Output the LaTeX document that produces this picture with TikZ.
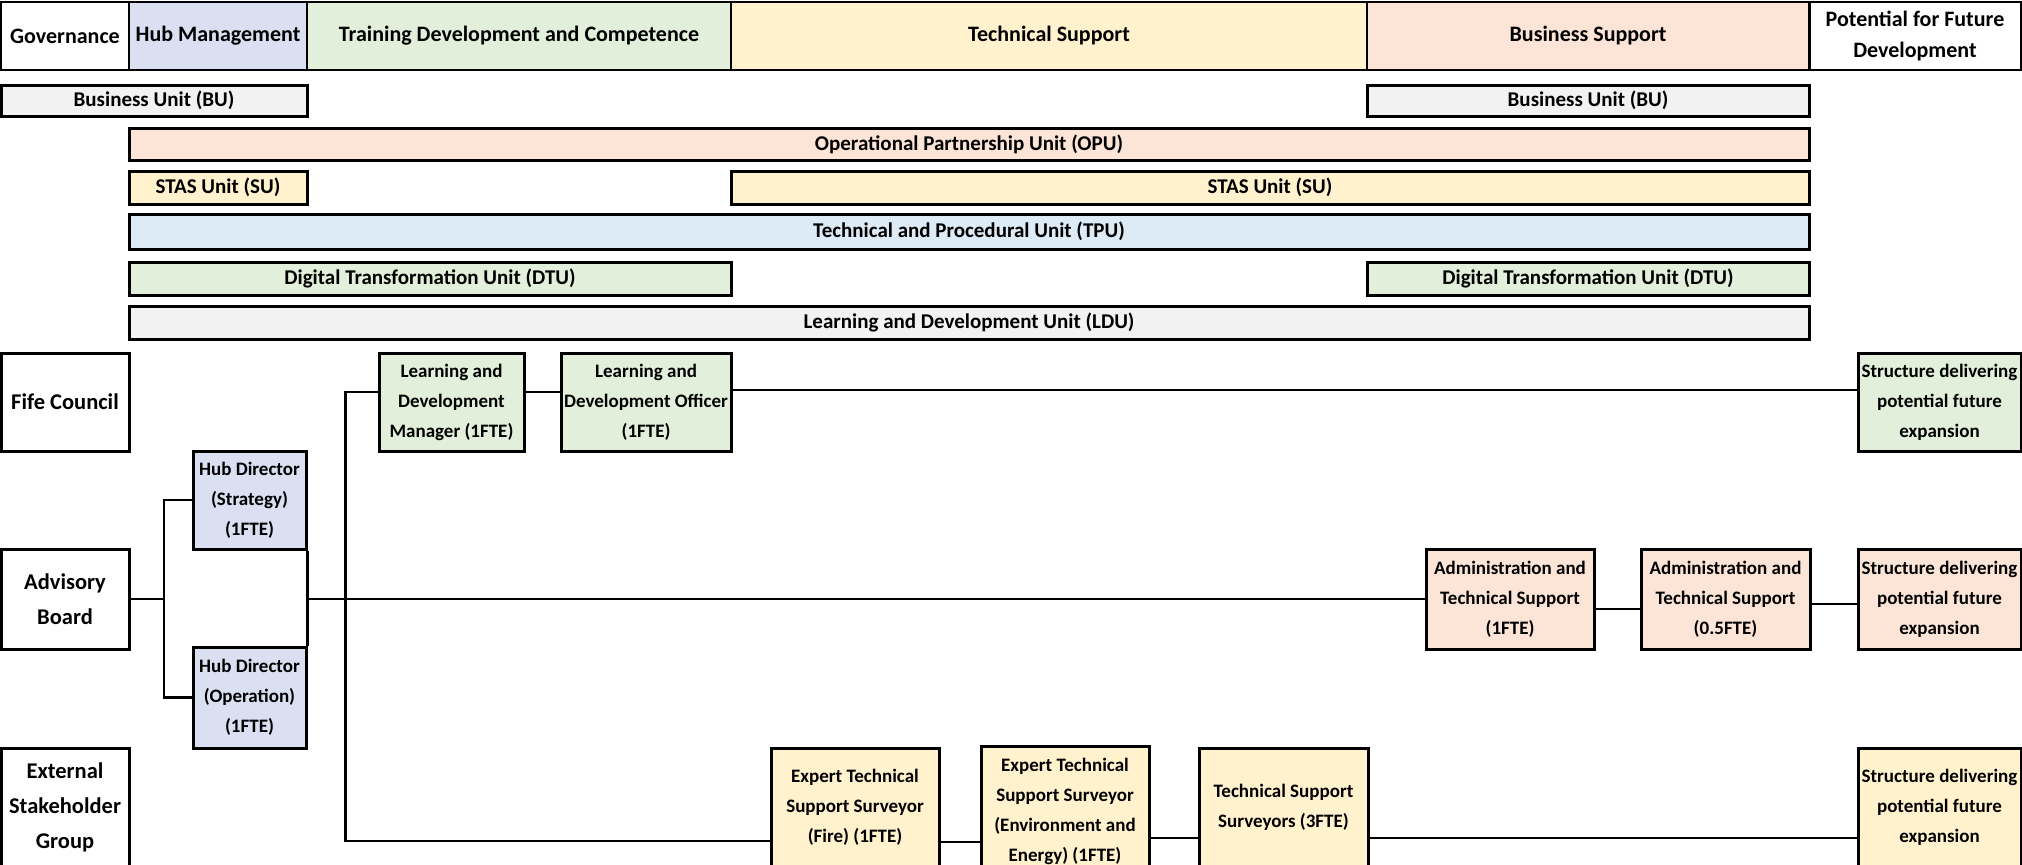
\documentclass[tikz,border=0pt]{standalone}
\usepackage{fontspec}
\setmainfont{Carlito}
\definecolor{hubblue}{HTML}{DAE0F2}
\definecolor{tdcgreen}{HTML}{E2EFDA}
\definecolor{tecyellow}{HTML}{FFF2CC}
\definecolor{bussalmon}{HTML}{FCE4D6}
\definecolor{unitgrey}{HTML}{F2F2F2}
\definecolor{tpublue}{HTML}{DDEBF7}
\begin{document}
\begin{tikzpicture}[x=1pt,y=-1pt,
    hdr/.style={draw, line width=2pt, align=center, inner sep=0pt, font=\fontsize{22}{31}\selectfont\bfseries},
    unit/.style={draw, line width=3pt, inner sep=0pt, font=\fontsize{21}{25}\selectfont\bfseries},
    gov/.style={draw, line width=3pt, align=center, inner sep=0pt, font=\fontsize{22.5}{35}\selectfont\bfseries},
    role/.style={draw, line width=3pt, align=center, inner sep=0pt, font=\fontsize{19}{30}\selectfont\bfseries},
    link/.style={line width=2.8pt}]
    \useasboundingbox (0,0) rectangle (2022,865);
    % header row
    \node[hdr, minimum width=128pt, minimum height=68pt] (hgov) at (65,36) {Governance};
    \node[hdr, fill=hubblue, minimum width=178pt, minimum height=68pt] (hhub) at (218,36) {Hub Management};
    \node[hdr, fill=tdcgreen, minimum width=424pt, minimum height=68pt] (htdc) at (519,36) {Training Development and Competence};
    \node[hdr, fill=tecyellow, minimum width=636pt, minimum height=68pt] (htec) at (1049,36) {Technical Support};
    \node[hdr, fill=bussalmon, minimum width=442pt, minimum height=68pt] (hbus) at (1588,36) {Business Support};
    \node[hdr, minimum width=211pt, minimum height=68pt] (hpot) at (1915,36) {Potential for Future\\Development};
    % units
    \node[unit, fill=unitgrey, minimum width=306pt, minimum height=31pt] (bu1) at (154,100.5) {Business Unit (BU)};
    \node[unit, fill=unitgrey, minimum width=442pt, minimum height=31pt] (bu2) at (1588,100.5) {Business Unit (BU)};
    \node[unit, fill=bussalmon, minimum width=1680pt, minimum height=32pt] (opu) at (969,144) {Operational Partnership Unit (OPU)};
    \node[unit, fill=tecyellow, minimum width=178pt, minimum height=33pt] (su1) at (218,187.5) {STAS Unit (SU)};
    \node[unit, fill=tecyellow, minimum width=1078pt, minimum height=33pt] (su2) at (1270,187.5) {STAS Unit (SU)};
    \node[unit, fill=tpublue, minimum width=1680pt, minimum height=35pt] (tpu) at (969,231.5) {Technical and Procedural Unit (TPU)};
    \node[unit, fill=tdcgreen, minimum width=602pt, minimum height=33pt] (dtu1) at (430,278.5) {Digital Transformation Unit (DTU)};
    \node[unit, fill=tdcgreen, minimum width=442pt, minimum height=33pt] (dtu2) at (1588,278.5) {Digital Transformation Unit (DTU)};
    \node[unit, fill=unitgrey, minimum width=1680pt, minimum height=33pt] (ldu) at (969,322.5) {Learning and Development Unit (LDU)};
    % governance column
    \node[gov, minimum width=128pt, minimum height=98pt] (fife) at (65,402) {Fife Council};
    \node[gov, minimum width=128pt, minimum height=100pt] (adv) at (65,599) {Advisory\\Board};
    \node[gov, minimum width=128pt, minimum height=118pt] (ext) at (65,807) {External\\Stakeholder\\Group};
    % roles
    \node[role, fill=hubblue, minimum width=113pt, minimum height=98pt] (hds) at (249.5,500) {Hub Director\\(Strategy)\\(1FTE)};
    \node[role, fill=hubblue, minimum width=113pt, minimum height=101pt] (hdo) at (249.5,697.5) {Hub Director\\(Operation)\\(1FTE)};
    \node[role, fill=tdcgreen, minimum width=145pt, minimum height=98pt] (ldm) at (451.5,402) {Learning and\\Development\\Manager (1FTE)};
    \node[role, fill=tdcgreen, minimum width=170pt, minimum height=98pt] (ldo) at (646,402) {Learning and\\Development Officer\\(1FTE)};
    \node[role, fill=tdcgreen, minimum width=163pt, minimum height=98pt] (sfg) at (1939.5,402) {Structure delivering\\potential future\\expansion};
    \node[role, fill=bussalmon, minimum width=168pt, minimum height=100pt] (adm1) at (1510,599) {Administration and\\Technical Support\\(1FTE)};
    \node[role, fill=bussalmon, minimum width=169pt, minimum height=100pt] (adm2) at (1725.5,599) {Administration and\\Technical Support\\(0.5FTE)};
    \node[role, fill=bussalmon, minimum width=163pt, minimum height=100pt] (sfs) at (1939.5,599) {Structure delivering\\potential future\\expansion};
    \node[role, fill=tecyellow, minimum width=168pt, minimum height=118pt] (etf) at (855,807) {Expert Technical\\Support Surveyor\\(Fire) (1FTE)};
    \node[role, fill=tecyellow, minimum width=168pt, minimum height=130pt] (ete) at (1065,811) {Expert Technical\\Support Surveyor\\(Environment and\\Energy) (1FTE)};
    \node[role, fill=tecyellow, minimum width=169pt, minimum height=118pt] (tss) at (1283.5,807) {Technical Support\\Surveyors (3FTE)};
    \node[role, fill=tecyellow, minimum width=163pt, minimum height=118pt] (sfy) at (1939.5,807) {Structure delivering\\potential future\\expansion};
    % connectors
    \coordinate (hdspine) at (164,599);
    \draw[link] (adv.east) -- (hdspine);
    \draw[link] (hds.west) -| (hdspine) |- (hdo.west);
    \draw[link] (hds.south east) -- (hdo.north east);
    \draw[link] (hds.east |- adv.east) -- (adm1.west);
    \draw[link] ([yshift=10pt]ldm.west) -- ++(-32,0) |- ([yshift=-34pt]etf.west);
    \draw[link] ([yshift=10pt]ldm.east) -- ([yshift=10pt]ldo.west);
    \draw[link] ([yshift=12pt]ldo.east) -- ([yshift=12pt]sfg.west);
    \draw[link] ([yshift=-10pt]adm1.east) -- ([yshift=-10pt]adm2.west);
    \draw[link] ([yshift=-5pt]adm2.east) -- ([yshift=-5pt]sfs.west);
    \draw[link] ([yshift=-35pt]etf.east) -- ([yshift=-31pt]ete.west);
    \draw[link] ([yshift=-27pt]ete.east) -- ([yshift=-31pt]tss.west);
    \draw[link] ([yshift=-31pt]tss.east) -- ([yshift=-31pt]sfy.west);
\end{tikzpicture}
\end{document}
